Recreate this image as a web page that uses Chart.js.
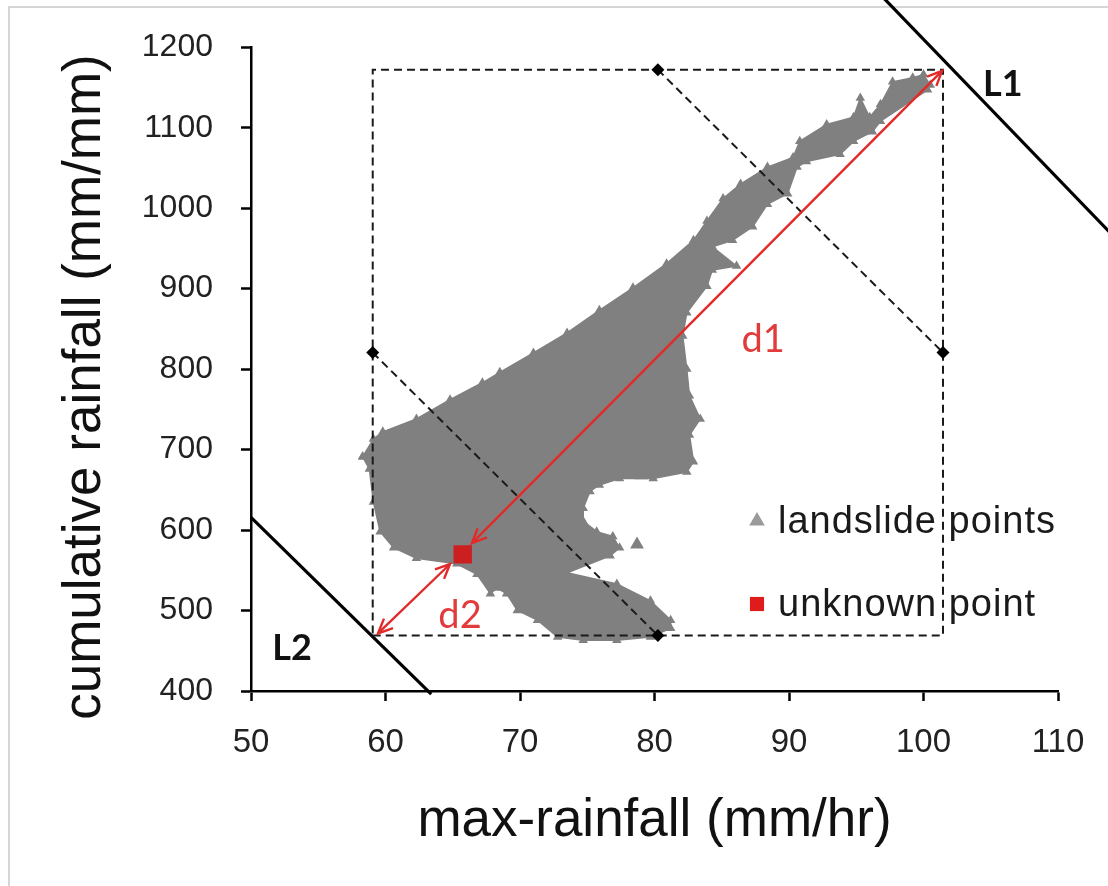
<!DOCTYPE html>
<html>
<head>
<meta charset="utf-8">
<title>landslide rainfall</title>
<script src="https://cdn.jsdelivr.net/npm/chart.js@4.4.1/dist/chart.umd.min.js"></script>
<style>
  body { margin: 0; background: #fff; }
  #wrap { position: relative; width: 1108px; height: 886px; overflow: hidden; }
  #frame { position: absolute; left: 8px; top: 6px; right: -4px; bottom: -4px;
           border-left: 2px solid #d6d6d6; border-top: 2px solid #d6d6d6; }
  canvas { position: absolute; left: 0; top: 0; }
</style>
</head>
<body>
<div id="wrap">
  <div id="frame"></div>
  <canvas id="chart" width="1108" height="886"></canvas>
</div>
<script>
// axis ticks
var xTickValues = [50, 60, 70, 80, 90, 100, 110];
var yTickValues = [400, 500, 600, 700, 800, 900, 1000, 1100, 1200];

// landslide points, traced round the edge of the cloud
var slideX = [58.3, 59.1, 59.8, 62.3, 64.8, 67.2, 68.5, 71.0, 73.5, 75.9, 78.4, 80.9, 82.9, 83.9,
  85.1, 86.4, 88.4, 90.3, 90.8, 92.8, 94.8, 95.3, 96.0, 96.8, 97.7, 99.2, 100.0, 100.5, 100.3,
  96.8, 96.2, 94.8, 93.8, 91.3, 90.6, 89.9, 88.4, 87.3, 85.8, 84.3, 86.1, 84.3, 83.9, 82.4,
  82.1, 82.4, 82.6, 83.4, 82.6, 82.9, 82.4, 79.9, 77.4, 75.9, 75.2, 74.7, 74.7, 75.7, 76.9,
  77.4, 76.7, 73.5, 77.2, 79.7, 81.2, 81.2, 79.7, 77.2, 74.7, 72.8, 71.3, 69.8, 69.0, 68.3,
  67.8, 66.8, 65.3, 62.3, 60.6, 59.6, 59.1, 58.8, 58.3];
var slideY = [691, 713, 722, 738, 762, 783, 796, 820, 845, 873, 901, 931, 960, 984,
  1012, 1030, 1051, 1063, 1083, 1104, 1113, 1137, 1113, 1129, 1157, 1162, 1166, 1153, 1147,
  1108, 1095, 1083, 1067, 1058, 1051, 1018, 1005, 977, 960, 952, 928, 923, 903, 870,
  841, 800, 767, 738, 718, 685, 672, 664, 664, 656, 648, 627, 611, 598, 592,
  578, 568, 547, 533, 512, 488, 478, 467, 463, 463, 467, 488, 500, 521, 528,
  521, 545, 558, 565, 578, 598, 635, 676, 691];
var looseX = [78.7, 82.0, 79.0];
var looseY = [582, 690, 668];

var unknownX = [65.74];
var unknownY = [569.8];

// bounding box, its corner markers and diagonals
var boxX = [59.05, 101.45, 101.45, 59.05, 59.05];
var boxY = [469, 469, 1172, 1172, 469];
var cornerX = [80.25, 101.45, 80.25, 59.05];
var cornerY = [1172, 820.5, 469, 820.5];
var diagAX = [80.25, 101.45];
var diagAY = [1172, 820.5];
var diagBX = [59.05, 80.25];
var diagBY = [820.5, 469];

// boundary lines and distances
var l1X = [97.1, 115];
var l1Y = [1260, 950];
var l2X = [50, 63.4];
var l2Y = [615.8, 396];
var d1X = [66.43, 101.38];
var d1Y = [583.7, 1170.6];
var d2X = [59.44, 64.8];
var d2Y = [471.5, 557.8];

var noteText = ['L1', 'L2', 'd1', 'd2'];
var noteX = [105.9, 53.05, 88.07, 65.54];
var noteY = [1153.4, 453, 836.5, 493.7];

function zip(xs, ys) {
  return xs.map(function(x, i) { return {x: x, y: ys[i]}; });
}

function arrowHead(ctx, fx, fy, tx, ty) {
  var ang = Math.atan2(ty - fy, tx - fx);
  var len = 16, spread = 0.42;
  ctx.beginPath();
  ctx.moveTo(tx - len * Math.cos(ang - spread), ty - len * Math.sin(ang - spread));
  ctx.lineTo(tx, ty);
  ctx.lineTo(tx - len * Math.cos(ang + spread), ty - len * Math.sin(ang + spread));
  ctx.stroke();
}

var arrowPlugin = {
  id: 'arrowHeads',
  afterDatasetsDraw: function(chart) {
    var ctx = chart.ctx;
    chart.data.datasets.forEach(function(ds, i) {
      if (!ds.arrowHeads) return;
      var pts = chart.getDatasetMeta(i).data;
      var a = pts[0], b = pts[pts.length - 1];
      ctx.save();
      ctx.strokeStyle = ds.borderColor;
      ctx.lineWidth = ds.borderWidth;
      arrowHead(ctx, b.x, b.y, a.x, a.y);
      arrowHead(ctx, a.x, a.y, b.x, b.y);
      ctx.restore();
    });
  }
};

var notesPlugin = {
  id: 'notes',
  afterDraw: function(chart) {
    var ctx = chart.ctx, xs = chart.scales.x, ys = chart.scales.y;
    ctx.save();
    ctx.textAlign = 'center';
    ctx.textBaseline = 'middle';
    noteText.forEach(function(t, i) {
      var bold = t.charAt(0) === 'L';
      ctx.font = (bold ? 'bold 36px ' : '38px ') + 'Lato';
      ctx.fillStyle = bold ? '#111' : '#e23b3b';
      ctx.fillText(t, xs.getPixelForValue(noteX[i]), ys.getPixelForValue(noteY[i]));
    });
    ctx.restore();
  }
};

var legendPlugin = {
  id: 'boxLegend',
  afterDraw: function(chart, args, opts) {
    var ctx = chart.ctx;
    var items = chart.data.datasets.filter(function(ds) { return ds.legendRank; })
      .sort(function(a, b) { return a.legendRank - b.legendRank; });
    ctx.save();
    ctx.textBaseline = 'middle';
    items.forEach(function(ds, k) {
      var y = opts.y + k * opts.gap;
      ctx.fillStyle = ds.legendColor;
      Chart.helpers.drawPoint(ctx, {pointStyle: ds.pointStyle, radius: ds.legendRadius, borderWidth: 0, rotation: 0}, opts.x, y);
      ctx.fillStyle = '#1a1a1a';
      ctx.font = opts.size + 'px "Liberation Sans"';
      ctx.letterSpacing = '1px';
      ctx.fillText(ds.label, opts.x + 21, y + 2);
    });
    ctx.restore();
  }
};

var yTitlePlugin = {
  id: 'yTitle',
  afterDraw: function(chart, args, opts) {
    var ctx = chart.ctx;
    ctx.save();
    ctx.translate(opts.x, opts.y);
    ctx.rotate(-Math.PI / 2);
    ctx.font = '53px "Liberation Sans"';
    ctx.fillStyle = '#111';
    ctx.textAlign = 'center';
    ctx.textBaseline = 'middle';
    ctx.fillText(opts.text, 0, 0);
    ctx.restore();
  }
};

var gray = '#808080';
var lineOnly = {showLine: true, pointRadius: 0, fill: false};

var ctx = document.getElementById('chart');
var chart = new Chart(ctx, {
  type: 'scatter',
  data: {
    datasets: [
      { label: 'unknown point', data: zip(unknownX, unknownY), pointStyle: 'rect', pointRadius: 13,
        backgroundColor: '#cc1f1f', borderColor: '#cc1f1f', borderWidth: 0,
        legendRank: 2, legendColor: '#e01b1b', legendRadius: 10 },
      Object.assign({ label: 'd1', data: zip(d1X, d1Y), borderColor: '#e22a2a', borderWidth: 2.4, arrowHeads: true }, lineOnly),
      Object.assign({ label: 'd2', data: zip(d2X, d2Y), borderColor: '#e22a2a', borderWidth: 2.4, arrowHeads: true }, lineOnly),
      { label: 'corners', data: zip(cornerX, cornerY), pointStyle: 'rectRot', pointRadius: 6.5,
        backgroundColor: '#000', borderColor: '#000', borderWidth: 0 },
      Object.assign({ label: 'box', data: zip(boxX, boxY), borderColor: '#1a1a1a', borderWidth: 2, borderDash: [8, 5] }, lineOnly),
      Object.assign({ label: 'diagA', data: zip(diagAX, diagAY), borderColor: '#1a1a1a', borderWidth: 2, borderDash: [8, 5] }, lineOnly),
      Object.assign({ label: 'diagB', data: zip(diagBX, diagBY), borderColor: '#1a1a1a', borderWidth: 2, borderDash: [8, 5] }, lineOnly),
      Object.assign({ label: 'L1', data: zip(l1X, l1Y), borderColor: '#000', borderWidth: 3.2, clip: false }, lineOnly),
      Object.assign({ label: 'L2', data: zip(l2X, l2Y), borderColor: '#000', borderWidth: 3.2, clip: false }, lineOnly),
      { label: 'landslide points', data: zip(slideX, slideY), showLine: true, fill: 'shape', tension: 0,
        backgroundColor: gray, borderColor: gray, borderWidth: 1.5,
        pointStyle: 'triangle', pointRadius: 5.5, pointBackgroundColor: gray, pointBorderWidth: 0,
        legendRank: 1, legendColor: '#9a9a9a', legendRadius: 9 },
      { label: 'landslide extra', data: zip(looseX, looseY), pointStyle: 'triangle', pointRadius: 8,
        backgroundColor: gray, borderWidth: 0 }
    ]
  },
  options: {
    responsive: false,
    animation: false,
    events: [],
    layout: { padding: { left: 0, right: 50, top: 42, bottom: 0 } },
    plugins: {
      legend: { display: false },
      tooltip: { enabled: false },
      boxLegend: { x: 757, y: 521, gap: 83, size: 38 },
      yTitle: { text: 'cumulative rainfall (mm/mm)', x: 85.5, y: 387 }
    },
    scales: {
      x: {
        type: 'linear', min: 50, max: 110,
        afterBuildTicks: function(s) { s.ticks = xTickValues.map(function(v) { return {value: v}; }); },
        afterFit: function(s) { s.height = 195; },
        ticks: { font: { family: 'Liberation Sans', size: 33 }, color: '#222', padding: 22,
                 autoSkip: false, maxRotation: 0, callback: function(v) { return String(v); } },
        grid: { drawOnChartArea: false, drawTicks: true, tickLength: 10, tickWidth: 2.5, tickColor: '#000' },
        border: { color: '#000', width: 2.5 },
        title: { display: true, text: 'max-rainfall (mm/hr)', color: '#111',
                 font: { family: 'Liberation Sans', size: 53 }, padding: { top: 0, bottom: 33 } }
      },
      y: {
        type: 'linear', min: 400, max: 1200,
        afterBuildTicks: function(s) { s.ticks = yTickValues.map(function(v) { return {value: v}; }); },
        afterFit: function(s) { s.width = 251; },
        ticks: { font: { family: 'Liberation Sans', size: 32 }, color: '#222', padding: 28,
                 callback: function(v) { return String(v); } },
        grid: { drawOnChartArea: false, drawTicks: true, tickLength: 10, tickWidth: 2.5, tickColor: '#000' },
        border: { color: '#000', width: 2.5 }
      }
    }
  },
  plugins: [arrowPlugin, notesPlugin, legendPlugin, yTitlePlugin]
});
</script>
</body>
</html>
